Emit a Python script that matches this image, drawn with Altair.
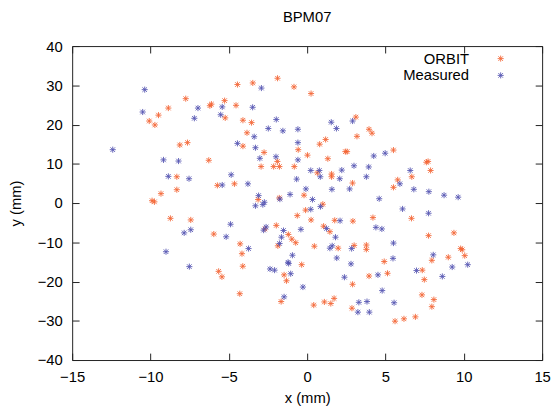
import altair as alt
import pandas as pd

FONT = "Liberation Sans"

series_names = ["ORBIT", "Measured"]
series_colors = ["#f4612f", "#5050b0"]

orbit_x = [-7.75, -8.86, -9.49, -10.08, -9.72, -6.21, -6.11, -5.27, -5.23, -8.13,
           -7.64, -6.28, -8.32, -8.32, -9.33, -9.9, -9.75, -5.73, -1.89, -4.45,
           -3.47, -0.84, 0.25, -4.54, -4.1, -3.55, -3.84, -4.1, -2.75, -1.9,
           -2.14, -1.77, -2.94, -0.57, 0.02, 1.32, -0.82, 0.8, 1.18, 2.44,
           1.56, 1.56, -4.64, -3.13, -1.78, -0.2, 0.65, 3.11, 3.95, 4.14,
           3.18, 2.55, 5.51, 7.61, 7.72, 7.88, 5.78, 6.68, 5.51, 2.9,
           -8.73, -7.43, -5.96, -5.65, -5.44, 1.0, -0.1, -0.63, 0.25, 1.76,
           -2.69, -1.97, -1.2, -0.98, -0.73, -1.87, -4.28, -4.16, -0.35, -4.11,
           -1.47, -1.32, -4.3, -1.66, 0.42, 1.1, 1.51, 1.72, 1.98, 1.05,
           1.45, 0.46, 2.92, 4.2, 6.66, 7.75, 9.37, 3.0, 3.78, 3.78,
           9.8, 9.9, 10.06, 9.01, 7.96, 4.92, 5.13, 3.95, 7.35, 7.48,
           2.9, 7.33, 8.09, 7.96, 2.86, 5.61, 6.18, 6.91]
orbit_y = [26.6, 24.2, 22.4, 20.9, 19.9, 24.8, 25.2, 26.1, 21.7, 14.8,
           15.4, 10.9, 6.7, 3.4, 2.4, 0.6, 0.3, 4.5, 31.8, 30.2,
           30.6, 29.6, 27.9, 24.9, 21.1, 20.5, 17.9, 14.5, 12.9, 10.6,
           9.3, 9.3, 9.3, 13.6, 12.2, 11.3, 9.3, 15.0, 16.2, 13.1,
           7.4, 6.7, 4.9, 0.9, 1.3, 2.0, 7.7, 21.9, 18.8, 17.8,
           17.0, 13.1, 13.5, 10.4, 10.6, 8.3, 5.9, 6.7, 4.0, 5.1,
           -3.9, -4.3, -7.9, -17.4, -18.8, -0.3, -1.8, -3.2, -4.3, -4.4,
           -6.6, -5.7, -8.0, -9.2, -10.1, -10.9, -10.4, -12.9, -15.7, -16.1,
           -18.3, -19.8, -23.1, -25.1, -26.0, -25.2, -25.6, -24.3, -11.5, -5.9,
           -7.3, -11.0, -4.6, -3.7, -3.9, -8.3, -7.6, -10.8, -10.7, -11.8,
           -11.6, -11.9, -13.4, -13.8, -14.6, -14.9, -17.9, -18.6, -17.1, -19.5,
           -20.7, -23.4, -24.6, -26.4, -26.8, -30.1, -29.5, -29.0]

meas_x = [-10.37, -10.5, -6.97, -7.2, -5.42, -5.52, -12.41, -9.17, -8.21, -8.86,
          -7.54, -5.42, -2.92, -3.48, -1.97, -2.48, -1.55, -0.59, -3.38, -4.45,
          -3.3, -0.59, -1.99, -3.02, -0.59, 1.54, 1.87, 0.23, 0.78, 0.84,
          2.21, 2.08, 1.58, -0.67, -4.85, -3.78, -3.1, -2.73, -2.83, -3.3,
          -1.09, -1.74, 0.34, 0.85, -0.08, 2.9, 4.25, 4.98, 2.99, 3.93,
          3.78, 2.71, 6.58, 5.92, 6.81, 7.77, 8.74, 9.64, 4.6,
          -7.85, -7.43, -9.01, -7.52, -5.17, 0.23, 2.1, -4.89, -2.62, -2.78,
          -1.51, -0.4, -1.64, -1.76, -3.74, -0.94, -1.22, -1.18, -2.37, -2.08,
          -1.05, -0.27, -1.47, 1.45, 1.6, 1.89, 2.38, 1.24, 1.81, 6.09,
          7.75, 4.39, 4.77, 5.51, 2.84, 8.05, 10.25, 9.26, 5.48, 2.8,
          4.52, 6.98, 8.63, 4.79, 3.3, 3.82, 5.55, 3.24, 3.97]
meas_y = [28.9, 23.2, 24.2, 21.6, 24.5, 22.5, 13.6, 11.0, 10.7, 6.8,
          6.2, 4.6, 29.3, 24.4, 21.3, 19.0, 18.4, 18.8, 16.9, 15.2,
          14.1, 15.4, 11.8, 11.4, 11.0, 20.6, 19.0, 8.3, 8.3, 6.7,
          8.4, 6.2, 3.5, 6.1, 7.2, 4.9, 1.9, 0.2, -0.4, -0.7,
          2.2, 1.0, 0.9, -0.9, 3.6, 20.9, 12.0, 12.7, 9.5, 9.2,
          6.7, 3.6, 8.3, 4.9, 3.5, 2.9, 2.0, 1.5, 1.1,
          -7.6, -6.8, -12.4, -16.2, -8.6, -1.6, -4.5, -5.4, -6.1, -6.9,
          -7.0, -6.7, -8.7, -10.3, -11.6, -13.3, -15.1, -15.4, -16.8, -17.1,
          -18.0, -21.4, -23.9, -11.5, -10.9, -14.0, -18.9, -6.5, -8.7, -1.5,
          -2.6, -6.2, -6.6, -10.2, -11.6, -13.2, -15.7, -16.3, -14.1, -15.5,
          -18.3, -17.2, -18.7, -22.3, -25.3, -25.1, -25.4, -27.8, -27.8]

x_ticks = [-15, -10, -5, 0, 5, 10, 15]
y_ticks = [-40, -30, -20, -10, 0, 10, 20, 30, 40]

df = pd.concat([
    pd.DataFrame({"x": orbit_x, "y": orbit_y, "series": series_names[0]}),
    pd.DataFrame({"x": meas_x, "y": meas_y, "series": series_names[1]}),
], ignore_index=True)

W, H = 476, 318
STAR = "M-1,0L1,0M0,-1L0,1M-0.75,-0.75L0.75,0.75M-0.75,0.75L0.75,-0.75"

xscale = alt.Scale(domain=[-15, 15], nice=False, zero=False)
yscale = alt.Scale(domain=[-40, 40], nice=False, zero=False)
color = alt.Color("series:N", scale=alt.Scale(domain=series_names, range=series_colors), legend=None)

base = alt.Chart(df)

points = base.mark_point(shape=STAR, filled=False, size=38, strokeWidth=0.9, opacity=0.95).encode(
    x=alt.X("x:Q", scale=xscale,
            axis=alt.Axis(values=x_ticks, title="x (mm)", orient="bottom", ticks=False, tickSize=0,
                          domain=False, grid=False, labelFlush=False, labelOverlap=False,
                          labelPadding=10, titlePadding=6)),
    y=alt.Y("y:Q", scale=yscale,
            axis=alt.Axis(values=y_ticks, title="y (mm)", orient="left", ticks=False, tickSize=0,
                          domain=False, grid=False, labelFlush=False, labelOverlap=False,
                          labelPadding=10, titlePadding=14)),
    color=color,
)

def tick_layer(xorient, yorient):
    return base.mark_point(opacity=0).encode(
        x=alt.X("x:Q", scale=xscale,
                axis=alt.Axis(values=x_ticks, orient=xorient, offset=-H, labels=False, domain=False,
                              grid=False, ticks=True, tickSize=7, title=None)),
        y=alt.Y("y:Q", scale=yscale,
                axis=alt.Axis(values=y_ticks, orient=yorient, offset=-W, labels=False, domain=False,
                              grid=False, ticks=True, tickSize=7, title=None)),
    )

ticks_a = tick_layer("top", "right")
ticks_b = tick_layer("bottom", "left")

legend_layers = []
legend_rows_y = [12.7, 29.7]
for name, col, ly in zip(series_names, series_colors, legend_rows_y):
    ldf = pd.DataFrame({"series": [name]})
    legend_layers.append(
        alt.Chart(ldf).mark_text(align="right", baseline="middle", font=FONT, fontSize=15, color="#000").encode(
            text="series:N", x=alt.value(402), y=alt.value(ly))
    )
    legend_layers.append(
        alt.Chart(ldf).mark_point(shape=STAR, filled=False, size=38, strokeWidth=0.9, opacity=0.95, color=col).encode(
            x=alt.value(434), y=alt.value(ly))
    )

chart = alt.layer(points, ticks_a, ticks_b, *legend_layers).resolve_axis(
    x="independent", y="independent"
).properties(
    width=W, height=H,
    title=alt.Title("BPM07", font=FONT, fontSize=15, fontWeight="normal", color="#000",
                    anchor="middle", offset=14),
    autosize=alt.AutoSizeParams(type="none"),
    padding={"left": 65, "top": 36, "right": 10, "bottom": 44},
).configure_view(
    stroke="#222", strokeWidth=1
).configure_axis(
    labelFont=FONT, titleFont=FONT, labelFontSize=15, titleFontSize=15,
    labelColor="#000", titleColor="#000", tickColor="#222", titleFontWeight="normal"
)

chart.save("out.html", embed_options={"renderer": "svg", "actions": False})
